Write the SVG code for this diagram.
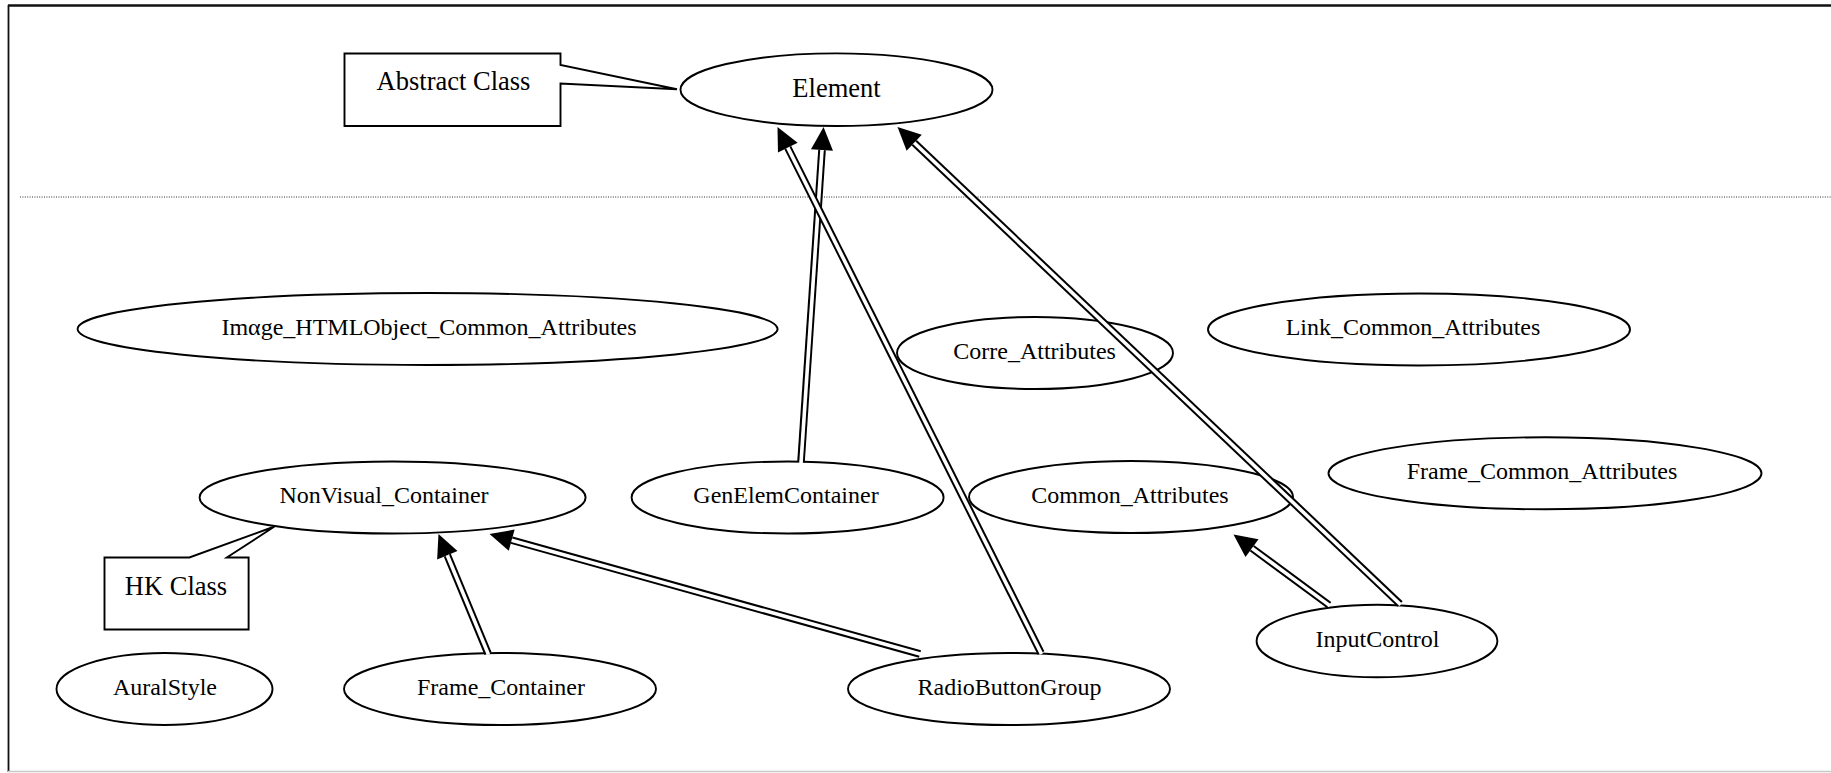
<svg xmlns="http://www.w3.org/2000/svg" width="1831" height="773" viewBox="0 0 1831 773">
  <style>
    .node { fill: #ffffff; stroke: #000000; stroke-width: 1.9; }
    .label { font-family: "Liberation Serif", "Times New Roman", serif; font-size: 24px; fill: #000000; text-anchor: middle; }
    .big { font-size: 26.5px; }
    .shaft { fill: none; stroke: #000000; stroke-width: 7.6; }
    .gap { fill: none; stroke: #ffffff; stroke-width: 3.6; }
  </style>
  <defs>
    <marker id="head" markerUnits="userSpaceOnUse" markerWidth="26" markerHeight="26" refX="0" refY="11" orient="auto" viewBox="0 0 26 22" overflow="visible">
      <path d="M0,0 L23,11 L0,22 Z" fill="#000000"/>
    </marker>
  </defs>

  <!-- frame and layer separator -->
  <rect x="0" y="0" width="1831" height="773" fill="#ffffff"/>
  <g id="frame">
    <line x1="8" y1="5.5" x2="1831" y2="5.5" stroke="#111" stroke-width="2.4"/>
    <line x1="8.5" y1="5" x2="8.5" y2="772" stroke="#111" stroke-width="1.8"/>
    <line x1="8" y1="771.5" x2="1831" y2="771.5" stroke="#c8c8c8" stroke-width="1.5"/>
    <line x1="20" y1="197" x2="1831" y2="197" stroke="#333" stroke-width="1.2" stroke-dasharray="1 1.4"/>
  </g>

  <!-- nodes -->
  <g id="abstract-class">
    <path class="node" d="M344.5,53.5 H560.5 V65 L677,89.3 L560.5,83.5 V126 H344.5 Z"/>
    <text class="label big" x="453.5" y="89.5">Abstract Class</text>
  </g>
  <g id="element">
    <ellipse class="node" cx="836.5" cy="89.7" rx="156" ry="36.3"/>
    <text class="label big" x="836.5" y="97">Element</text>
  </g>
  <g id="image-htmlobject-common-attributes">
    <ellipse class="node" cx="427.6" cy="329" rx="350" ry="36"/>
    <text class="label" x="429" y="335">Imαge_HTMLObject_Common_Attributes</text>
  </g>
  <g id="corre-attributes">
    <ellipse class="node" cx="1035" cy="353" rx="138" ry="36"/>
    <text class="label" x="1034.6" y="359">Corre_Attributes</text>
  </g>
  <g id="link-common-attributes">
    <ellipse class="node" cx="1419" cy="329.5" rx="211" ry="36"/>
    <text class="label" x="1413" y="335">Link_Common_Attributes</text>
  </g>
  <g id="frame-common-attributes">
    <ellipse class="node" cx="1545" cy="473.3" rx="216.5" ry="36"/>
    <text class="label" x="1542" y="479">Frame_Common_Attributes</text>
  </g>
  <g id="nonvisual-container">
    <ellipse class="node" cx="392.6" cy="497.5" rx="193" ry="36"/>
    <text class="label" x="384" y="503">NonVisual_Container</text>
  </g>
  <g id="hk-class">
    <path class="node" d="M104.5,557.5 H189.4 L274.5,526.5 L226.8,557.5 H248.6 V629.5 H104.5 Z"/>
    <text class="label big" x="176" y="595">HK Class</text>
  </g>
  <g id="genelemcontainer">
    <ellipse class="node" cx="787.6" cy="497.5" rx="156" ry="36"/>
    <text class="label" x="786" y="503">GenElemContainer</text>
  </g>
  <g id="common-attributes">
    <ellipse class="node" cx="1131" cy="497" rx="162" ry="36"/>
    <text class="label" x="1130" y="502.5">Common_Attributes</text>
  </g>
  <g id="inputcontrol">
    <ellipse class="node" cx="1377" cy="641" rx="120.4" ry="36.3"/>
    <text class="label" x="1377.5" y="647">InputControl</text>
  </g>
  <g id="auralstyle">
    <ellipse class="node" cx="164.5" cy="689" rx="108" ry="36"/>
    <text class="label" x="165" y="695">AuralStyle</text>
  </g>
  <g id="frame-container">
    <ellipse class="node" cx="500" cy="689" rx="156" ry="36"/>
    <text class="label" x="501" y="695">Frame_Container</text>
  </g>
  <g id="radiobuttongroup">
    <ellipse class="node" cx="1009" cy="689" rx="161" ry="36"/>
    <text class="label" x="1009.5" y="695">RadioButtonGroup</text>
  </g>

  <!-- generalisation connectors: double shaft, filled head -->
  <g id="connectors">
    <g id="genelem-to-element">
      <path class="shaft" d="M801,462 L822,150" marker-end="url(#head)"/>
      <path class="gap" d="M801,463 L822,150"/>
    </g>
    <g id="radiobuttongroup-to-element">
      <path class="shaft" d="M1041,653 L787.8,147.6" marker-end="url(#head)"/>
      <path class="gap" d="M1041.5,654 L787.8,147.6"/>
    </g>
    <g id="inputcontrol-to-element">
      <path class="shaft" d="M1400,604 L914.2,142.8" marker-end="url(#head)"/>
      <path class="gap" d="M1400.7,604.7 L914.2,142.8"/>
    </g>
    <g id="inputcontrol-to-common-attributes">
      <path class="shaft" d="M1329,605 L1252,548.2" marker-end="url(#head)"/>
      <path class="gap" d="M1329.8,605.6 L1252,548.2"/>
    </g>
    <g id="radiobuttongroup-to-nonvisual">
      <path class="shaft" d="M920,654 L511.7,540.2" marker-end="url(#head)"/>
      <path class="gap" d="M921,654.3 L511.7,540.2"/>
    </g>
    <g id="frame-container-to-nonvisual">
      <path class="shaft" d="M488,653.5 L447.3,555.3" marker-end="url(#head)"/>
      <path class="gap" d="M488.4,654.4 L447.3,555.3"/>
    </g>
  </g>
</svg>
